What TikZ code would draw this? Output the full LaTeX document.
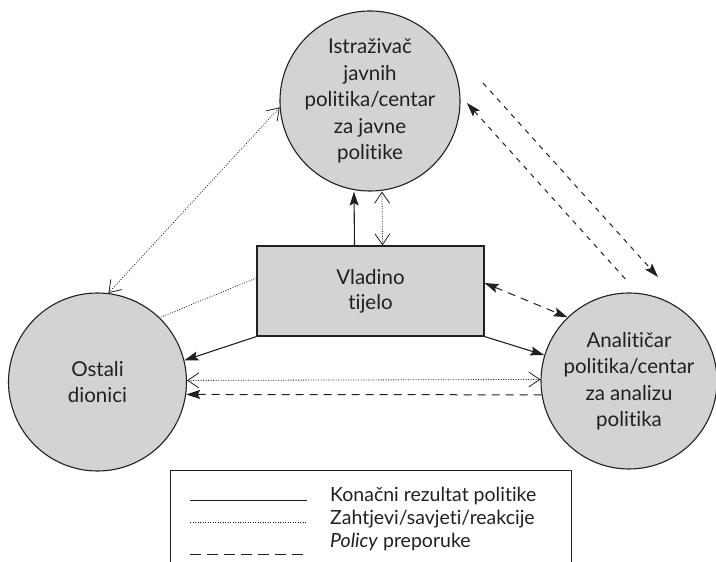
\documentclass[tikz,border=0pt]{standalone}
\usepackage{fontspec}
\setmainfont{Lato}[Ligatures={NoCommon}]
\usetikzlibrary{arrows.meta}
\definecolor{fillg}{RGB}{209,211,212}
\definecolor{ink}{RGB}{35,31,32}
\begin{document}
\begin{tikzpicture}[x=1pt,y=1pt,
  ft/.tip={Stealth[length=14pt,width=9pt,inset=2.5pt]},
  ot/.tip={Straight Barb[length=11pt,width=15pt]},
  circ/.style={circle,draw=ink,line width=1.1pt,fill=fillg,minimum size=178pt,inner sep=0pt,align=center,text=ink,font=\fontsize{20.5}{26.5}\selectfont},
  govbox/.style={draw=ink,line width=1.1pt,fill=fillg,minimum width=227pt,minimum height=90pt,inner sep=0pt,align=center,text=ink,font=\fontsize{20.5}{25}\selectfont},
  res/.style={draw=ink,line width=1.1pt},
  req/.style={draw=ink,line width=0.8pt,dash pattern=on 0.9pt off 1.6pt},
  rec/.style={draw=ink,line width=1pt,dash pattern=on 8pt off 6pt},
  recd/.style={draw=ink,line width=1pt,dash pattern=on 5pt off 5.5pt},
  legtext/.style={anchor=base west,text=ink,inner sep=0pt,font=\fontsize{19.5}{22}\selectfont}
]
\useasboundingbox (0,0) rectangle (716,562);
\node[circ] (T) at (370,461) {Istraživač\\javnih\\politika/centar\\za javne\\politike};
\node[circ] (L) at (97.5,180) {Ostali\\dionici};
\node[circ,minimum size=176pt] (R) at (629,181) {Analitičar\\politika/centar\\za analizu\\politika};
\node[govbox] (V) at (370.5,271) {Vladino\\tijelo};
% connectors
\draw[res,-ft] ([xshift=-16pt]V.north) -- ([xshift=-16pt]T.south);
\draw[req,ot-ot] ([xshift=12pt]V.north) -- ([xshift=12pt]T.south);
\draw[req,ot-ot] (T.184) -- (L.83);
\draw[req] ([yshift=13pt]V.west) -- (L.46);
\draw[res,-ft] (V.south west) -- (L.14);
\draw[res,-ft] (V.south east) -- (R.163);
\draw[rec,ft-ft] ([yshift=8pt]V.east) -- (R.134);
\draw[req,ot-ot] (L.1) -- (R.179);
\draw[rec,-ft] (R.189) -- (L.-8);
\coordinate (a1) at (483,479);
\coordinate (a2) at (658,285);
\coordinate (b1) at (467,459);
\coordinate (b2) at (628,280);
\draw[recd,-ft] (a1) -- (a2);
\draw[recd,ft-] (b1) -- (b2);
% legend
\draw[ink,line width=1pt] (170,-10) -- (170,91) -- (571,91) -- (571,-10);
\coordinate (s1) at (190,62); \coordinate (s2) at (307,62);
\coordinate (d1) at (190,39.5); \coordinate (d2) at (307,39.5);
\coordinate (p1) at (190,8); \coordinate (p2) at (307,8);
\draw[res,line width=0.9pt] (s1) -- (s2);
\draw[req] (d1) -- (d2);
\draw[ink,line width=0.9pt,dash pattern=on 11pt off 6pt] (p1) -- (p2);
\node[legtext] (k1) at (330,60) {Konačni rezultat politike};
\node[legtext] (k2) at (330,37) {Zahtjevi/savjeti/reakcije};
\node[legtext] (k3) at (330,14) {\textit{Policy} preporuke};
\end{tikzpicture}
\end{document}
